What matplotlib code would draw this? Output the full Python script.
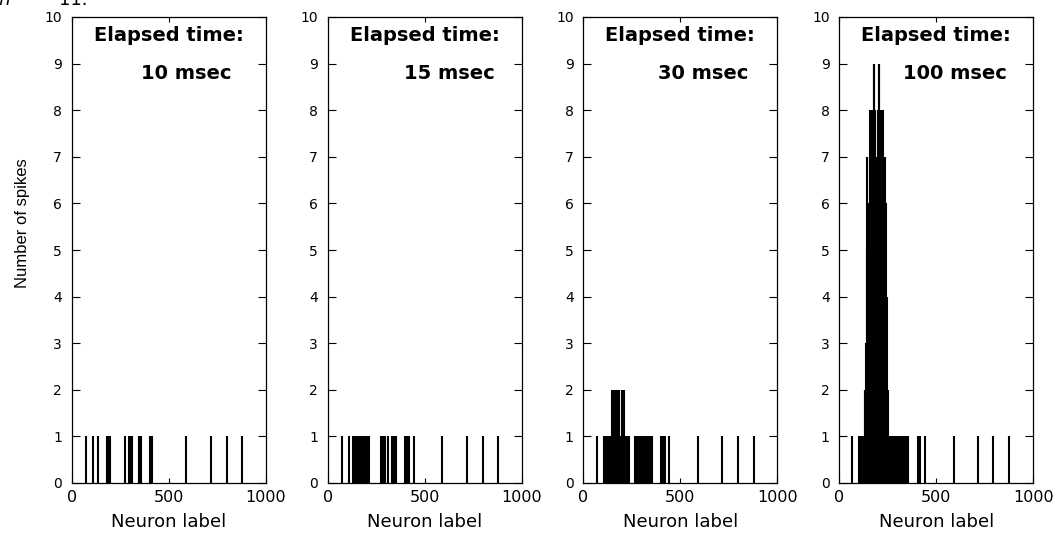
import matplotlib
matplotlib.use("Agg")
import matplotlib.pyplot as plt

# ---------------- data ----------------
times = ["10 msec", "15 msec", "30 msec", "100 msec"]

p1_neurons = [72, 108, 136, 184, 188, 192, 196, 276, 293, 303, 310, 345, 349, 353,
              358, 405, 412, 589, 717, 798, 879]
p1_counts = [1, 1, 1, 1, 1, 1, 1, 1, 1, 1, 1, 1, 1, 1,
             1, 1, 1, 1, 1, 1, 1]

p2_neurons = [72, 108, 129, 136, 143, 150, 160, 167, 171, 175, 179, 183, 187, 191,
              195, 199, 203, 207, 211, 273, 279, 288, 294, 310, 332, 341, 350, 401,
              405, 410, 414, 418, 443, 589, 717, 798, 879]
p2_counts = [1, 1, 1, 1, 1, 1, 1, 1, 1, 1, 1, 1, 1, 1,
             1, 1, 1, 1, 1, 1, 1, 1, 1, 1, 1, 1, 1, 1,
             1, 1, 1, 1, 1, 1, 1, 1, 1]

p3_neurons = [72, 107, 112, 117, 124, 131, 135, 139, 143, 147, 151, 154, 158, 161,
              165, 169, 173, 178, 183, 187, 191, 195, 199, 203, 207, 212, 216, 220,
              224, 228, 232, 235, 269, 275, 282, 287, 292, 297, 302, 307, 312, 320,
              329, 334, 339, 344, 349, 355, 402, 407, 412, 417, 421, 441, 589, 717,
              798, 879]
p3_counts = [1, 1, 1, 1, 1, 1, 1, 1, 1, 2, 1, 2, 2, 2,
             1, 2, 2, 2, 2, 1, 1, 1, 2, 2, 2, 2, 1, 1,
             1, 1, 1, 1, 1, 1, 1, 1, 1, 1, 1, 1, 1, 1,
             1, 1, 1, 1, 1, 1, 1, 1, 1, 1, 1, 1, 1, 1,
             1, 1]

p4_neurons = [67, 103, 107, 110, 119, 123, 127, 130, 133, 136, 138, 141, 144, 147,
              150, 153, 156, 159, 162, 165, 168, 171, 174, 177, 180, 183, 186, 189,
              192, 195, 198, 201, 204, 207, 210, 213, 216, 219, 222, 225, 228, 231,
              234, 237, 240, 243, 246, 249, 252, 256, 260, 267, 272, 276, 279, 282,
              286, 290, 294, 298, 302, 306, 310, 314, 318, 322, 331, 336, 341, 346,
              351, 356, 405, 410, 416, 441, 589, 714, 793, 876]
p4_counts = [1, 1, 1, 1, 1, 1, 1, 2, 2, 2, 3, 7, 5, 6,
             5, 6, 7, 8, 8, 8, 7, 6, 8, 9, 9, 8, 7, 7,
             6, 7, 8, 8, 9, 9, 8, 8, 7, 8, 8, 8, 7, 7,
             7, 6, 6, 4, 4, 2, 1, 1, 1, 1, 1, 1, 1, 1,
             1, 1, 1, 1, 1, 1, 1, 1, 1, 1, 1, 1, 1, 1,
             1, 1, 1, 1, 1, 1, 1, 1, 1, 1]

panels = [(p1_neurons, p1_counts), (p2_neurons, p2_counts),
          (p3_neurons, p3_counts), (p4_neurons, p4_counts)]

x_ticks = [0, 500, 1000]
y_ticks = [0, 1, 2, 3, 4, 5, 6, 7, 8, 9, 10]

# ---------------- figure ----------------
W, H = 1064, 533
fig = plt.figure(figsize=(W / 100, H / 100), dpi=100)

lefts = [71.7, 327.7, 583.3, 839.3]
ax_w = 194 / W
ax_b = 50 / H
ax_h = 466 / H
msec_x = [0.59, 0.625, 0.62, 0.594]

for i, ((nx, cnt), t) in enumerate(zip(panels, times)):
    ax = fig.add_axes([lefts[i] / W, ax_b, ax_w, ax_h])
    ax.vlines(nx, 0, cnt, colors="k", linewidth=1.5)
    ax.set_xlim(0, 1000)
    ax.set_ylim(0, 10)
    ax.set_xticks(x_ticks)
    ax.set_yticks(y_ticks)
    ax.tick_params(axis="both", direction="in", top=True, right=True,
                   width=0.8, colors="k")
    ax.tick_params(axis="y", length=6, pad=7)
    ax.tick_params(axis="x", length=3.5, pad=5)
    for lab in ax.get_yticklabels():
        lab.set_fontfamily("DejaVu Sans")
        lab.set_fontsize(10)
    for lab in ax.get_xticklabels():
        lab.set_fontfamily("DejaVu Sans")
        lab.set_fontsize(11.5)
    for s in ax.spines.values():
        s.set_linewidth(0.9)
    ax.set_xlabel("Neuron label", family="DejaVu Sans", fontsize=13, labelpad=6)
    ax.text(0.5, 0.949, "Elapsed time:", transform=ax.transAxes, ha="center",
            va="baseline", family="DejaVu Sans", fontweight="bold", fontsize=14)
    ax.text(msec_x[i], 0.866, t, transform=ax.transAxes, ha="center",
            va="baseline", family="DejaVu Sans", fontweight="bold", fontsize=14)

fig.text(23 / W, 1 - 223.5 / H, "Number of spikes", rotation=90, ha="center",
         va="center", family=["Liberation Sans", "DejaVu Sans"], fontsize=12)

# clipped remnant of the caption above the figure
fig.text(-2 / W, 1 - 5 / H, r"$\hbar$", ha="left", va="baseline", fontsize=13)
fig.text(59 / W, 1 - 5 / H, "11.", ha="left", va="baseline",
         family="DejaVu Sans", fontsize=13)

fig.savefig("out.png", dpi=100)
